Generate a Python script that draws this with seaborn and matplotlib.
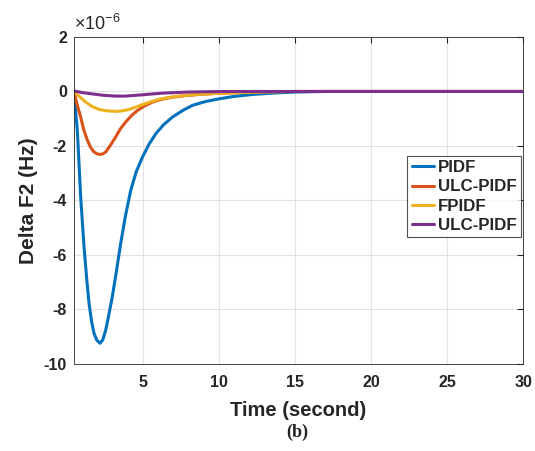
import numpy as np
import pandas as pd
import matplotlib
matplotlib.use("Agg")
import matplotlib.pyplot as plt
import seaborn as sns

# values, in units of 1e-6 Hz
t_pidf = [0.45, 0.68, 0.9, 1.12, 1.3, 1.45, 1.62, 1.78, 1.95, 2.17, 2.35, 2.55, 2.75, 2.98, 3.25, 3.53, 3.85, 4.19, 4.55, 4.96, 5.4, 5.84, 6.35, 6.93, 7.6, 8.25, 9.1, 10.0, 11.0, 12.2, 13.5, 15.0, 17.0, 20.0, 25.0, 30.0]
v_pidf = [0.0, -1.43, -3.87, -5.7, -6.9, -7.78, -8.45, -8.88, -9.12, -9.24, -9.12, -8.75, -8.2, -7.53, -6.6, -5.58, -4.55, -3.63, -2.95, -2.41, -1.93, -1.55, -1.22, -0.94, -0.7, -0.51, -0.37, -0.27, -0.18, -0.11, -0.06, -0.02, 0.0, 0.0, 0.0, 0.0]

t_ulc1 = [0.45, 0.65, 0.9, 1.1, 1.34, 1.55, 1.78, 1.98, 2.17, 2.35, 2.55, 2.85, 3.2, 3.5, 3.86, 4.25, 4.63, 5.1, 5.62, 6.2, 6.93, 7.8, 8.7, 9.8, 10.9, 13.1, 15.0, 20.0, 25.0, 30.0]
v_ulc1 = [0.0, -0.45, -0.94, -1.4, -1.79, -2.05, -2.22, -2.29, -2.31, -2.29, -2.22, -1.98, -1.67, -1.38, -1.12, -0.88, -0.7, -0.53, -0.39, -0.29, -0.21, -0.15, -0.11, -0.07, -0.05, -0.01, 0.0, 0.0, 0.0, 0.0]

t_fpidf = [0.45, 0.8, 1.23, 1.65, 2.11, 2.6, 3.2, 3.65, 4.08, 4.5, 4.96, 5.5, 6.05, 6.7, 7.37, 8.2, 9.1, 10.2, 11.3, 13.5, 15.0, 20.0, 25.0, 30.0]
v_fpidf = [0.0, -0.18, -0.39, -0.55, -0.66, -0.71, -0.73, -0.71, -0.66, -0.58, -0.48, -0.38, -0.29, -0.22, -0.17, -0.12, -0.09, -0.06, -0.04, -0.01, 0.0, 0.0, 0.0, 0.0]

t_ulc2 = [0.45, 1.0, 1.67, 2.4, 3.2, 3.8, 4.3, 5.0, 5.62, 6.3, 7.15, 8.0, 9.1, 10.5, 15.0, 20.0, 25.0, 30.0]
v_ulc2 = [0.02, -0.04, -0.09, -0.14, -0.17, -0.17, -0.15, -0.12, -0.09, -0.06, -0.04, -0.02, -0.01, 0.0, 0.0, 0.0, 0.0, 0.0]

labels = ["PIDF", "ULC-PIDF", "FPIDF", "ULC-PIDF"]
colors = ["#0072BD", "#D95319", "#EDB120", "#7E2F8E"]

sns.set_style("white")
plt.rcParams["font.family"] = ["Liberation Sans", "DejaVu Sans"]
plt.rcParams["font.weight"] = "bold"
plt.rcParams["axes.unicode_minus"] = False
plt.rcParams["mathtext.fontset"] = "custom"
plt.rcParams["mathtext.rm"] = "Liberation Sans"
plt.rcParams["mathtext.default"] = "regular"

fig = plt.figure(figsize=(5.35, 4.51), dpi=100)
ax = fig.add_axes([0.138, 0.193, 0.840, 0.725])

series = [(t_pidf, v_pidf), (t_ulc1, v_ulc1), (t_fpidf, v_fpidf), (t_ulc2, v_ulc2)]
for (t, v), lab, c in zip(series, labels, colors):
    sns.lineplot(x=t, y=v, label=lab, color=c, linewidth=2.2, ax=ax)

ax.set_xlim(0.45, 30)
ax.set_ylim(-10, 2)
ax.set_xticks([5, 10, 15, 20, 25, 30])
ax.set_yticks([-10, -8, -6, -4, -2, 0, 2])
ax.grid(True, color="#e3e3e3", linewidth=0.8)
ax.set_axisbelow(True)
for s in ax.spines.values():
    s.set_color("#262626")
    s.set_linewidth(0.6)
ax.tick_params(direction="in", length=4, width=0.8, top=True, right=True,
               labelsize=11.5, colors="#262626")
ax.tick_params(axis="x", pad=8)
ax.tick_params(axis="y", pad=5)
for lbl in ax.get_xticklabels() + ax.get_yticklabels():
    lbl.set_fontweight("bold")

ax.set_xlabel("Time (second)", fontsize=14.5, fontweight="bold", color="#262626", labelpad=8)
ax.set_ylabel("Delta F2 (Hz)", fontsize=15, fontweight="bold", color="#262626", labelpad=4)

ax.text(0.0, 1.008, r"$\times10^{-6}$", transform=ax.transAxes, fontsize=13,
        fontweight="normal", color="#262626", ha="left", va="bottom")

leg = ax.legend(loc="upper left", bbox_to_anchor=(0.742, 0.636), frameon=True,
                fancybox=False, handlelength=1.35, handletextpad=0.2,
                borderpad=0.25, labelspacing=0.25, borderaxespad=0,
                prop={"weight": "bold", "size": 12.2})
leg.get_frame().set_edgecolor("#262626")
leg.get_frame().set_linewidth(0.8)

fig.text(0.555, 0.042, "(b)", fontsize=13, ha="center", va="center",
         family=["Liberation Serif", "DejaVu Serif"], fontweight="bold", color="#222222")

fig.savefig("out.png", dpi=100)
